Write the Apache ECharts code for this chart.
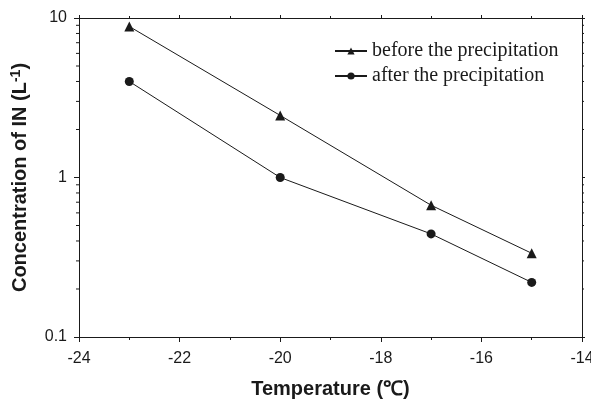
<!DOCTYPE html>
<html>
<head>
<meta charset="utf-8">
<script src="https://cdn.jsdelivr.net/npm/echarts@6/dist/echarts.min.js"></script>
<style>
  html, body { margin: 0; padding: 0; background: #fff; }
  #main { width: 591px; height: 401px; }
</style>
</head>
<body>
<div id="main"></div>
<script>
// temperature (℃) of each sample
var temps = [-23, -20, -17, -15];
// IN concentration, L^-1
var beforePrecip = [8.85, 2.45, 0.67, 0.335];
var afterPrecip = [4.0, 1.0, 0.443, 0.22];
var seriesNames = ['before the precipitation', 'after the precipitation'];
// minor ticks of the log axis
var logMinor = [0.2, 0.3, 0.4, 0.5, 0.6, 0.7, 0.8, 0.9, 2, 3, 4, 5, 6, 7, 8, 9];

var ink = '#1a1a1a';
var labelFont = { color: ink, fontFamily: 'Liberation Sans, Arial', fontSize: 16 };

function pairs(xs, ys) {
  var out = [];
  for (var i = 0; i < xs.length; i++) out.push([xs[i], ys[i]]);
  return out;
}

var option = {
  animation: false,
  backgroundColor: '#fff',
  grid: { left: 79, right: 9, top: 18, bottom: 64, outerBoundsMode: 'none', containLabel: false },
  legend: {
    orient: 'vertical',
    left: 329,
    top: 36,
    itemGap: 5,
    itemWidth: 32,
    itemHeight: 9,
    data: seriesNames,
    textStyle: { color: ink, fontFamily: 'Liberation Serif, Times New Roman', fontSize: 20 }
  },
  xAxis: [{
    type: 'value', min: -24, max: -14, interval: 2,
    name: 'Temperature (℃)',
    nameLocation: 'middle', nameGap: 42,
    nameTextStyle: { color: ink, fontFamily: 'Liberation Sans, Arial', fontSize: 20, fontWeight: 'bold' },
    axisLine: { lineStyle: { color: ink, width: 1 } },
    axisTick: { inside: false, length: 5, lineStyle: { color: ink } },
    minorTick: { show: true, splitNumber: 2, length: 3, lineStyle: { color: ink } },
    axisLabel: Object.assign({ margin: 14 }, labelFont),
    splitLine: { show: false }
  }, {
    type: 'value', min: -24, max: -14, interval: 2, position: 'top',
    axisLine: { lineStyle: { color: ink, width: 1 } },
    axisTick: { inside: false, length: 3, lineStyle: { color: ink } },
    minorTick: { show: true, splitNumber: 2, length: 2, lineStyle: { color: ink } },
    axisLabel: { show: false },
    splitLine: { show: false }
  }],
  yAxis: [{
    type: 'log', logBase: 10, min: 0.1, max: 10,
    name: 'Concentration of IN (L{sup|-1})',
    nameLocation: 'middle', nameGap: 47,
    nameTextStyle: {
      color: ink, fontFamily: 'Liberation Sans, Arial', fontSize: 20, fontWeight: 'bold',
      rich: { sup: { color: ink, fontFamily: 'Liberation Sans, Arial', fontSize: 14, fontWeight: 'bold', verticalAlign: 'top', padding: [0, 0, 9, 0] } }
    },
    axisLine: { show: true, lineStyle: { color: ink, width: 1 } },
    axisTick: { inside: false, length: 5, lineStyle: { color: ink } },
    axisLabel: Object.assign({ margin: 12 }, labelFont),
    splitLine: { show: false }
  }, {
    type: 'log', logBase: 10, min: 0.1, max: 10, position: 'right',
    axisLine: { show: true, lineStyle: { color: ink, width: 1 } },
    axisTick: { inside: false, length: 3, lineStyle: { color: ink } },
    axisLabel: { show: false },
    splitLine: { show: false }
  }],
  series: [{
    name: seriesNames[0],
    type: 'line',
    data: pairs(temps, beforePrecip),
    symbol: 'triangle', symbolSize: 10,
    lineStyle: { color: ink, width: 1 },
    itemStyle: { color: ink },
    z: 3
  }, {
    name: seriesNames[1],
    type: 'line',
    data: pairs(temps, afterPrecip),
    symbol: 'circle', symbolSize: 9,
    lineStyle: { color: ink, width: 1 },
    itemStyle: { color: ink },
    z: 3
  }, {
    // minor ticks for the log axes, placed through the axis scale
    type: 'custom',
    clip: false,
    silent: true,
    data: logMinor.map(function (v) { return [-24, v]; }),
    renderItem: function (params, api) {
      var p = api.coord([-24, api.value(1)]);
      var cs = params.coordSys;
      var right = cs.x + cs.width;
      return {
        type: 'group',
        children: [
          { type: 'line', shape: { x1: cs.x - 3, y1: p[1], x2: cs.x, y2: p[1] }, style: { stroke: ink, lineWidth: 1 } },
          { type: 'line', shape: { x1: right, y1: p[1], x2: right + 2, y2: p[1] }, style: { stroke: ink, lineWidth: 1 } }
        ]
      };
    }
  }]
};

echarts.init(document.getElementById('main')).setOption(option);
</script>
</body>
</html>
